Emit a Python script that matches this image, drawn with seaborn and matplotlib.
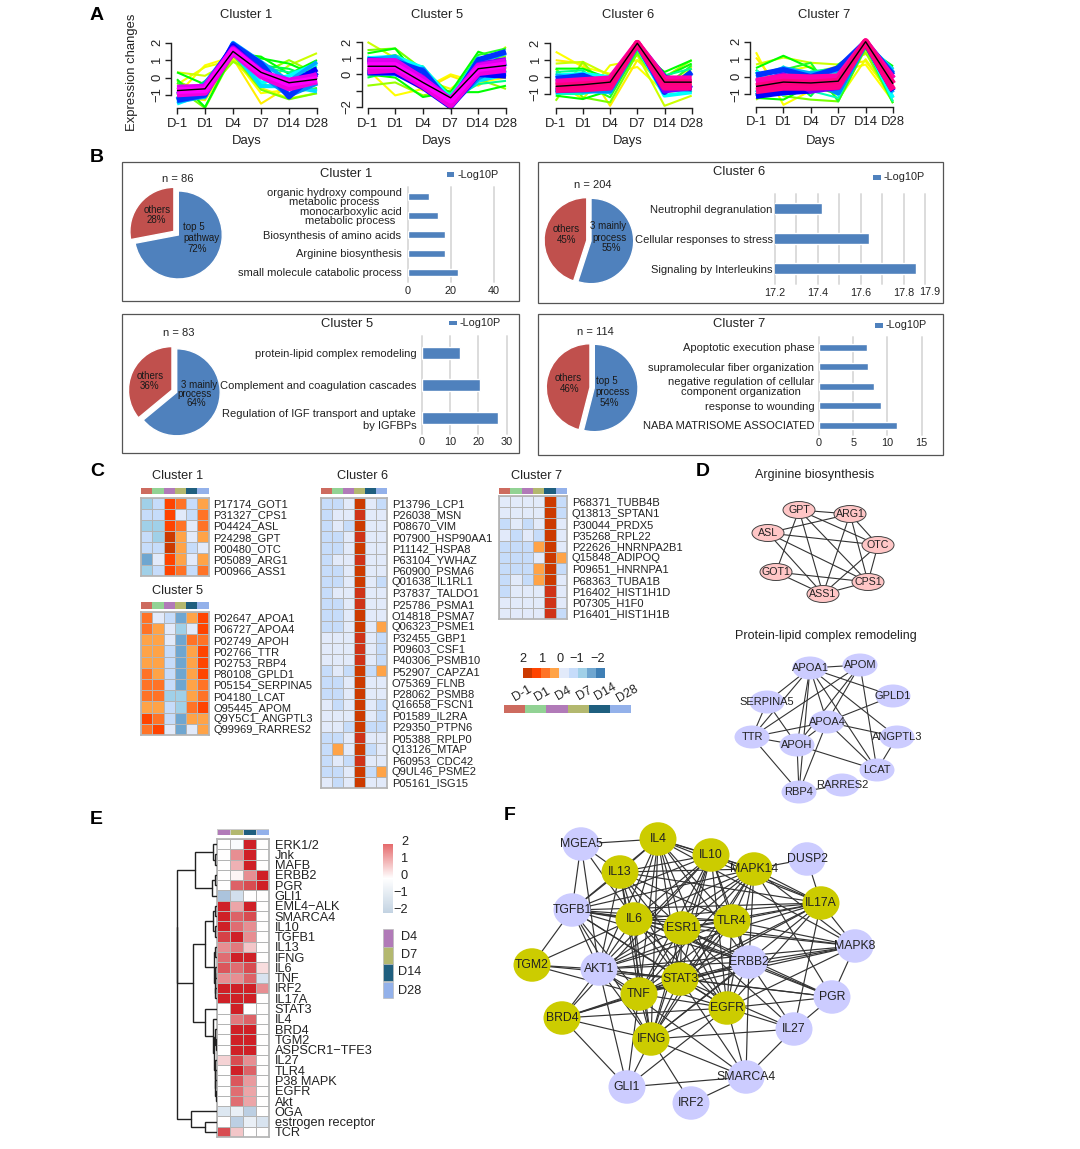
import numpy as np
import pandas as pd
import matplotlib
matplotlib.use('Agg')
import matplotlib.pyplot as plt
from matplotlib.colors import ListedColormap, LinearSegmentedColormap
from matplotlib.patches import Ellipse, Rectangle
from matplotlib.cm import ScalarMappable
import seaborn as sns

W, H = 1080, 1149
days = ['D-1', 'D1', 'D4', 'D7', 'D14', 'D28']
day_colors = ['#cd6b5f', '#92d294', '#b17ab8', '#b3b86f', '#1f5f7f', '#93b1ea']

# Panel A: expression profiles, low membership first
profile_colors = ['#ffff00', '#ffee00', '#eeff00', '#ccff00', '#99ff00', '#77ff00',
                  '#00ff00', '#00ff00', '#22ff22', '#00ff44', '#00ff88', '#00ffbb',
                  '#00ffff', '#00ddff', '#00aaff', '#0088ff', '#0033ff', '#0000ff', '#7700ff']
core_c15 = ['#dd00ee', '#ee00dd', '#ff00ff']
core_c67 = ['#ff00aa', '#ff0088', '#ff0080']

cluster1_lines = [
    [-1.0, 0.7, 1.2, -0.9, -0.7, -0.4], [-1.1, -1.3, 1.1, -1.5, -0.5, 0.4], [-0.4, 0.6, 1.0, -0.6, -1.2, -0.9],
    [0.3, 0.1, 1.0, -0.5, 0.7, 1.4], [-0.2, -0.9, 0.9, 0.2, 1.0, 0.2], [-0.6, -1.75, 1.3, -0.7, -1.25, -0.9],
    [0.3, -0.4, 1.2, 1.1, 0.8, 0.1], [-0.1, -1.7, 1.4, 1.2, 0.2, 1.0], [-0.3, -1.0, 1.3, 0.9, -0.9, -0.6],
    [-1.3, -0.2, 1.2, 0.7, 0.5, -0.1], [-1.1, -1.2, 1.5, 0.6, 0.3, 0.6], [-0.5, -0.8, 1.3, -0.4, -0.6, -0.7],
    [-1.5, -0.9, 1.7, -0.3, 0.1, 0.8], [-1.2, -0.5, 1.5, -0.5, -0.5, -0.8], [-1.4, -1.1, 2.0, 0.9, -0.2, 0.9],
    [-1.3, -0.4, 1.7, 0.2, -1.0, -0.3], [-1.3, -1.0, 1.9, 0.8, -1.1, 0.3], [-1.0, -0.6, 1.8, 0.3, -0.4, 0.5],
    [-0.9, -0.8, 1.7, 0.4, -0.6, 0.2], [-0.6, -0.55, 1.6, 0.25, -0.2, 0.1], [-0.95, -0.85, 1.45, 0.1, -0.6, -0.2],
    [-0.75, -0.7, 1.55, 0.3, -0.35, -0.1]]
cluster1_mean = [-0.75, -0.65, 1.5, 0.3, -0.3, -0.1]

cluster5_lines = [
    [0.3, -1.3, -0.9, 0.0, -0.5, -0.2], [0.9, 0.2, -1.0, -0.1, -0.7, 0.4], [0.1, 0.8, -0.3, -0.9, 0.4, 1.0],
    [2.0, 1.0, 0.1, -1.5, 0.3, 1.7], [-0.7, -0.5, -1.3, -1.0, -0.3, -0.9], [1.5, 1.6, 0.3, -1.2, 1.0, 1.1],
    [1.3, 1.6, -0.5, -1.1, 1.4, 0.8], [0.0, -0.2, -1.4, -1.1, -1.1, -0.7], [0.8, 1.2, 0.4, -1.3, 1.2, 1.6],
    [-0.2, 0.2, -0.9, -1.6, 0.9, 0.3], [1.1, 0.7, 0.5, -1.6, -0.6, -0.4], [0.0, 0.3, -0.8, -1.2, 0.6, 0.9],
    [1.0, 1.1, 0.4, -1.5, 1.0, 0.1], [0.1, 0.0, -0.6, -1.7, -0.4, 0.0], [0.9, 1.1, -0.1, -1.5, 0.8, 1.3],
    [0.2, 0.2, 0.3, -1.9, -0.2, 0.7], [0.9, 0.8, 0.2, -1.8, 0.9, 1.4], [0.1, 0.1, -0.8, -2.0, 0.0, -0.1],
    [0.8, 0.7, -0.2, -1.8, 0.6, 0.9], [0.8, 0.8, -0.3, -1.6, 0.5, 0.8], [0.2, 0.3, -0.7, -1.9, 0.1, 0.3],
    [0.55, 0.55, -0.5, -1.6, 0.35, 0.6]]
cluster5_mean = [0.5, 0.5, -0.5, -1.45, 0.35, 0.55]

cluster6_lines = [
    [1.5, 0.6, 0.2, 0.6, -0.9, -0.7], [1.0, 0.8, -1.7, 1.0, -0.5, 0.6], [-0.3, -1.3, 0.7, 1.0, -0.2, -0.4],
    [0.8, 0.9, 0.1, 1.3, -1.7, -1.1], [-1.4, 0.9, -1.0, 1.5, 0.0, 1.0], [0.5, -1.2, -1.5, 1.4, -0.9, 0.5],
    [0.5, 0.5, -0.1, 1.6, 0.3, 1.0], [-1.1, -1.3, -0.8, 1.7, 0.0, 0.8], [0.2, -0.4, -1.2, 1.6, -0.6, 0.7],
    [-0.9, 0.3, -0.6, 1.7, 0.2, -0.9], [0.3, 0.4, -1.0, 1.8, 0.1, 0.5], [-1.0, -1.0, -0.7, 1.7, -0.8, 0.3],
    [0.1, 0.2, 0.0, 1.8, -1.1, -0.9], [-0.9, -0.8, -0.9, 1.9, 0.0, -0.6], [0.1, -0.1, -0.2, 1.9, -0.9, 0.2],
    [-0.7, -0.8, -0.8, 1.9, -0.7, -0.7], [-0.1, 0.1, -0.5, 2.0, -0.9, 0.3], [-0.8, -0.7, -0.6, 2.0, 0.0, -0.7],
    [-0.3, -0.2, -0.1, 2.0, -0.8, -0.6], [-0.3, -0.2, -0.1, 2.0, -0.1, -0.1], [-0.75, -0.7, -0.6, 2.0, -0.6, -0.6],
    [-0.55, -0.45, -0.35, 2.0, -0.3, -0.3]]
cluster6_mean = [-0.55, -0.45, -0.3, 2.0, -0.3, -0.3]

cluster7_lines = [
    [1.4, -1.6, -0.8, 0.3, 0.7, -1.4], [1.1, -0.9, 0.2, 0.6, 0.9, -1.1], [0.2, 0.3, 0.6, -1.3, 1.0, -1.2],
    [0.7, 1.1, 0.8, 0.7, 1.3, 0.4], [-1.3, -0.4, -0.9, 0.2, 1.4, -1.5], [0.4, -1.1, -1.3, -1.4, 1.6, -0.7],
    [0.5, 1.2, 0.5, -0.2, 1.7, 0.6], [-1.2, -1.3, -0.5, -1.0, 1.8, 0.5], [0.2, 0.4, 0.8, -1.4, 1.7, -1.5],
    [-1.0, 0.2, -1.1, 0.7, 1.8, 0.3], [0.4, -0.9, 0.3, 0.5, 1.8, 0.0], [-1.1, 0.6, -0.8, -1.2, 1.8, -1.4],
    [0.3, -1.0, 0.1, -1.0, 1.9, -1.2], [-0.9, 0.3, -0.7, -0.6, 1.9, 0.4], [0.0, 0.5, 0.2, 0.3, 1.9, -0.9],
    [-1.1, -0.7, -0.2, -0.9, 1.9, 0.2], [0.1, 0.4, 0.0, 0.5, 2.0, 0.1], [-1.1, -0.9, -0.8, -0.1, 1.9, -0.8],
    [-0.3, 0.1, -0.8, -0.6, 2.0, -0.1], [-0.25, 0.0, -0.05, 0.0, 2.0, -0.1], [-0.8, -0.6, -0.6, -0.55, 2.0, -0.75],
    [-0.55, -0.3, -0.35, -0.25, 2.0, -0.4]]
cluster7_mean = [-0.55, -0.3, -0.35, -0.25, 2.0, -0.4]

# Panel B: enrichment bars and pies
b1_terms = ['organic hydroxy compound\nmetabolic process', 'monocarboxylic acid\nmetabolic process',
            'Biosynthesis of amino acids', 'Arginine biosynthesis', 'small molecule catabolic process']
b1_vals = [10, 14, 17.3, 17.4, 23.3]
b5_terms = ['protein-lipid complex remodeling', 'Complement and coagulation cascades',
            'Regulation of IGF transport and uptake\nby IGFBPs']
b5_vals = [13.5, 20.7, 27]
b6_terms = ['Neutrophil degranulation', 'Cellular responses to stress', 'Signaling by Interleukins']
b6_vals = [17.42, 17.64, 17.86]
b7_terms = ['Apoptotic execution phase', 'supramolecular fiber organization',
            'negative regulation of cellular\ncomponent organization', 'response to wounding',
            'NABA MATRISOME ASSOCIATED']
b7_vals = [7, 7.1, 8, 9, 11.4]
pie1 = [72, 28]
pie5 = [64, 36]
pie6 = [55, 45]
pie7 = [54, 46]

# Panel C: z-score levels, 2.5 is the redder shade of the top level
c1_genes = ['P17174_GOT1', 'P31327_CPS1', 'P04424_ASL', 'P24298_GPT', 'P00480_OTC', 'P05089_ARG1', 'P00966_ASS1']
c1_vals = [[-1, -.5, 1.5, 1, -.5, .5], [-.5, -.5, 1.5, 0, -.5, 1], [-1, -1, 1.5, 1, 0, 1], [-.5, -1, 2, .5, 0, .5],
           [-.5, -.5, 2, .5, -.5, 0], [-1.5, 0, 1.5, .5, 0, .5], [-1, -.5, 1.5, 1, -.5, 1]]
c5_genes = ['P02647_APOA1', 'P06727_APOA4', 'P02749_APOH', 'P02766_TTR', 'P02753_RBP4', 'P80108_GPLD1',
            'P05154_SERPINA5', 'P04180_LCAT', 'O95445_APOM', 'Q9Y5C1_ANGPTL3', 'Q99969_RARRES2']
c5_vals = [[1, 0, -.5, -1.5, .5, 1.5], [1, .5, 0, -1, 0, 1.5], [.5, .5, 0, -1.5, 1, 1], [.5, .5, -.5, -1.5, .5, 1.5],
           [.5, .5, -.5, -1.5, .5, 1.5], [1, .5, -.5, -1.5, .5, 1.5], [1, 1, -.5, -1.5, .5, 1], [1, 1, -1, -1, .5, 1],
           [.5, .5, -.5, -1, 1, 1.5], [1.5, 1, -.5, -1.5, .5, .5], [1, 1.5, 0, -1.5, 0, .5]]
c6_genes = ['P13796_LCP1', 'P26038_MSN', 'P08670_VIM', 'P07900_HSP90AA1', 'P11142_HSPA8', 'P63104_YWHAZ',
            'P60900_PSMA6', 'Q01638_IL1RL1', 'P37837_TALDO1', 'P25786_PSMA1', 'O14818_PSMA7', 'Q06323_PSME1',
            'P32455_GBP1', 'P09603_CSF1', 'P40306_PSMB10', 'P52907_CAPZA1', 'O75369_FLNB', 'P28062_PSMB8',
            'Q16658_FSCN1', 'P01589_IL2RA', 'P29350_PTPN6', 'P05388_RPLP0', 'Q13126_MTAP', 'P60953_CDC42',
            'Q9UL46_PSME2', 'P05161_ISG15']
c6_vals = [[-.5, -.5, 0, 2, 0, -.5], [-.5, 0, 0, 2.5, 0, 0], [-.5, 0, -.5, 2, 0, 0], [-.5, -.5, 0, 2.5, 0, 0],
           [-.5, -.5, 0, 2, 0, 0], [-.5, 0, 0, 2.5, 0, 0], [-.5, -.5, 0, 2, 0, 0], [-.5, -.5, 0, 2, 0, -.5],
           [-.5, 0, 0, 2.5, 0, 0], [-.5, -.5, 0, 2.5, 0, 0], [-.5, -.5, 0, 2, 0, 0], [-.5, -.5, 0, 2, 0, .5],
           [0, 0, 0, 2.5, 0, -.5], [0, 0, 0, 2.5, 0, -.5], [0, 0, 0, 2.5, 0, -.5], [-.5, 0, -.5, 2, -.5, .5],
           [-.5, -.5, 0, 2, 0, 0], [-.5, -.5, 0, 2, 0, 0], [0, -.5, 0, 2, 0, -.5], [0, 0, 0, 2, 0, -.5],
           [0, 0, -.5, 2, -.5, -.5], [-.5, -.5, 0, 2.5, 0, 0], [-.5, .5, 0, 2, -.5, 0], [-.5, 0, -.5, 2.5, 0, 0],
           [-.5, -.5, 0, 2, -.5, .5], [0, -.5, 0, 2, 0, 0]]
c7_genes = ['P68371_TUBB4B', 'Q13813_SPTAN1', 'P30044_PRDX5', 'P35268_RPL22', 'P22626_HNRNPA2B1', 'Q15848_ADIPOQ',
            'P09651_HNRNPA1', 'P68363_TUBA1B', 'P16402_HIST1H1D', 'P07305_H1F0', 'P16401_HIST1H1B']
c7_vals = [[0, 0, 0, 0, 2, -.5], [0, 0, 0, 0, 2, -.5], [-.5, 0, -.5, 0, 2, 0], [0, -.5, 0, -.5, 2, 0],
           [-.5, -.5, -.5, .5, 2, 0], [-.5, -.5, -.5, 0, 2, .5], [-.5, -.5, -.5, .5, 2, -.5], [-.5, 0, -.5, .5, 2, 0],
           [-.5, 0, 0, 0, 2.5, 0], [0, 0, 0, 0, 2.5, 0], [0, 0, 0, 0, 2.5, -.5]]
level_colors = ['#3f7fb5', '#6fa6d0', '#a0d0e8', '#c6dcfa', '#e2eafa', '#ffa347', '#ff7326', '#ff4400', '#cc3a00', '#cf3318']
legend_levels = [2, 1.5, 1, .5, 0, -.5, -1, -1.5, -2]

# Panel E
e_names = ['ERK1/2', 'Jnk', 'MAFB', 'ERBB2', 'PGR', 'GLI1', 'EML4\u2212ALK', 'SMARCA4', 'IL10', 'TGFB1', 'IL13', 'IFNG',
           'IL6', 'TNF', 'IRF2', 'IL17A', 'STAT3', 'IL4', 'BRD4', 'TGM2', 'ASPSCR1\u2212TFE3', 'IL27', 'TLR4',
           'P38 MAPK', 'EGFR', 'Akt', 'OGA', 'estrogen receptor', 'TCR']
e_vals = [[0, -.1, 2, 0], [0, 1, 2, 0], [0, .7, 2, 0], [0, .1, 1, 2], [0, 1.4, 1.6, 2], [-1.5, -.8, 0, 0],
          [2, .8, 2, 0], [2, 1.4, 1.6, 0], [2, 1.3, 1, 0], [1.7, 2, 1, 0], [1, 1.2, .5, 0], [1.3, 2, 2, 0],
          [1.5, 1.3, 1.6, .3], [1, 1, 1.4, -.7], [2, 2, 2, 1], [2, 2, 2, 0], [0, 2, 0, 0], [0, 1.2, 1.4, 0],
          [0, 2, 2, 0], [0, 2, 2, 0], [0, 2, 2, 0], [.4, 1.6, 1, 0], [0, 2, 1.4, 0], [0, 1.5, .9, 0], [0, 1.3, .8, 0],
          [0, 1.3, .8, 0], [-.6, -.4, -1.2, 0], [0, -1.2, -.4, -.7], [1.6, .5, 0, 0]]
# dendrogram: [height, left, right], leaves are row numbers
top_branch = [21.7, [3.3, 0, [1.7, 1, 2]], [5, [1.7, 3, 4], 5]]
mid_a = [11.7, [3.3, [1.7, 6, 7], [1.7, 8, 9]], [2.5, [1.7, 10, 11], [2, [1.5, 12, 13], [1.5, 14, 15]]]]
mid_b = [11.7, 16, [3.3, 17, [2.5, [1.5, 18, [1, 19, 20]], [2, 21, [1.7, 22, [1.5, 23, [1, 24, 25]]]]]]]
low_branch = [26, 26, [11.7, 27, 28]]
e_tree = [40, [40, top_branch, [23.3, mid_a, mid_b]], low_branch]

# Panel D: node places on the page
d1_nodes = {'GPT': (799, 510), 'ARG1': (850, 514), 'ASL': (768, 533), 'OTC': (878, 545), 'GOT1': (776, 572),
            'CPS1': (868, 582), 'ASS1': (823, 594)}
d1_edges = [('GPT', 'ARG1'), ('GPT', 'OTC'), ('GPT', 'ASS1'), ('GPT', 'GOT1'), ('GPT', 'CPS1'), ('ARG1', 'ASL'),
            ('ARG1', 'OTC'), ('ARG1', 'CPS1'), ('ARG1', 'ASS1'), ('ASL', 'OTC'), ('ASL', 'CPS1'), ('ASL', 'ASS1'),
            ('OTC', 'CPS1'), ('OTC', 'ASS1'), ('GOT1', 'CPS1'), ('GOT1', 'ASS1'), ('CPS1', 'ASS1')]
d2_nodes = {'APOA1': (810, 668), 'APOM': (860, 665), 'GPLD1': (893, 696), 'SERPINA5': (767, 702), 'TTR': (752, 737),
            'APOA4': (827, 722), 'ANGPTL3': (897, 737), 'APOH': (797, 745), 'LCAT': (877, 770), 'RBP4': (799, 792),
            'RARRES2': (842, 785)}
d2_edges = [('APOA1', 'APOM'), ('APOA1', 'GPLD1'), ('APOA1', 'SERPINA5'), ('APOA1', 'TTR'), ('APOA1', 'APOA4'),
            ('APOA1', 'APOH'), ('APOA1', 'RBP4'), ('APOA1', 'LCAT'), ('APOA1', 'ANGPTL3'), ('APOM', 'TTR'),
            ('APOM', 'APOA4'), ('APOM', 'APOH'), ('APOM', 'LCAT'), ('GPLD1', 'APOA4'), ('SERPINA5', 'TTR'),
            ('SERPINA5', 'APOH'), ('TTR', 'APOA4'), ('TTR', 'APOH'), ('TTR', 'RBP4'), ('APOA4', 'APOH'),
            ('APOA4', 'ANGPTL3'), ('APOA4', 'LCAT'), ('APOA4', 'RBP4'), ('APOH', 'LCAT'), ('APOH', 'RBP4'),
            ('ANGPTL3', 'LCAT'), ('RBP4', 'RARRES2')]

# Panel F
f_hubs = {'IL4': (658, 839), 'IL10': (711, 855), 'IL13': (620, 872), 'MAPK14': (754, 869), 'IL17A': (821, 903),
          'IL6': (634, 919), 'ESR1': (682, 928), 'TLR4': (732, 921), 'TGM2': (532, 965), 'STAT3': (680, 979),
          'TNF': (639, 994), 'EGFR': (727, 1008), 'BRD4': (562, 1018), 'IFNG': (651, 1039)}
f_others = {'MGEA5': (581, 844), 'DUSP2': (807, 859), 'TGFB1': (572, 910), 'MAPK8': (855, 946), 'ERBB2': (749, 962),
            'AKT1': (599, 969), 'PGR': (832, 997), 'IL27': (794, 1029), 'SMARCA4': (746, 1077), 'GLI1': (627, 1087),
            'IRF2': (691, 1103)}
f_links = {
    'MGEA5': 'IL4 IL13 AKT1 TGFB1 IL6',
    'DUSP2': 'MAPK14 IL17A',
    'IL4': 'IL13 IL10 MAPK14 IL17A TGFB1 IL6 ESR1 TLR4 AKT1 STAT3 TNF EGFR IFNG ERBB2 MAPK8',
    'IL10': 'IL13 MAPK14 IL17A TGFB1 IL6 ESR1 TLR4 AKT1 STAT3 TNF EGFR IFNG ERBB2 BRD4',
    'IL13': 'MAPK14 TGFB1 IL6 ESR1 TLR4 AKT1 STAT3 TNF IFNG EGFR IL17A',
    'MAPK14': 'IL17A TGFB1 IL6 ESR1 TLR4 AKT1 STAT3 TNF EGFR IFNG ERBB2 MAPK8 PGR',
    'IL17A': 'TGFB1 IL6 ESR1 TLR4 AKT1 STAT3 TNF EGFR IFNG MAPK8 IL27',
    'TGFB1': 'IL6 ESR1 TLR4 AKT1 STAT3 TNF EGFR IFNG TGM2 ERBB2 MAPK8',
    'IL6': 'ESR1 TLR4 AKT1 STAT3 TNF EGFR IFNG ERBB2 TGM2 PGR',
    'ESR1': 'TLR4 AKT1 STAT3 TNF EGFR IFNG ERBB2 MAPK8 PGR IL27',
    'TLR4': 'AKT1 STAT3 TNF EGFR IFNG ERBB2 MAPK8',
    'MAPK8': 'ERBB2 STAT3 AKT1 TNF EGFR PGR',
    'ERBB2': 'AKT1 STAT3 TNF EGFR IFNG PGR IL27 SMARCA4 BRD4',
    'TGM2': 'AKT1 TNF STAT3',
    'AKT1': 'STAT3 TNF EGFR IFNG BRD4 GLI1 PGR SMARCA4',
    'STAT3': 'TNF EGFR IFNG BRD4 PGR IL27 SMARCA4',
    'TNF': 'EGFR IFNG BRD4 GLI1',
    'PGR': 'EGFR IL27',
    'EGFR': 'IFNG BRD4 IL27 SMARCA4 GLI1',
    'BRD4': 'IFNG GLI1',
    'IL27': 'IFNG SMARCA4',
    'IFNG': 'SMARCA4 GLI1 IRF2',
    'SMARCA4': 'GLI1 IRF2',
}

sns.set_theme(style='white')
plt.rcParams['font.family'] = ['Liberation Sans', 'DejaVu Sans']
plt.rcParams['axes.unicode_minus'] = True

fig = plt.figure(figsize=(W / 100, H / 100), dpi=100, facecolor='white')
TXT = '#222222'
CELL_EDGE = '#b4b4b4'
GRID = '#dcdcdc'


def px_axes(x0, y0, x1, y1):
    ax = fig.add_axes([x0 / W, 1 - y1 / H, (x1 - x0) / W, (y1 - y0) / H])
    ax.patch.set_visible(False)
    return ax


# whole page overlay, in pixels, for labels, boxes and networks
page = fig.add_axes([0, 0, 1, 1], zorder=20)
page.set_xlim(0, W)
page.set_ylim(H, 0)
page.axis('off')


def label(x, y, s, size=8, ha='center', va='center', **kw):
    kw.setdefault('color', TXT)
    page.text(x, y, s, fontsize=size, ha=ha, va=va, **kw)


for letter, lx, ly in [('A', 97, 15), ('B', 97, 158), ('C', 97, 472), ('D', 703, 472), ('E', 96, 819), ('F', 510, 816)]:
    label(lx, ly, letter, size=14, fontweight='bold', color='black')


# Panel A
def profile_panel(rect, ylim, yticks, ylabels, lines, mean, core, title, tx, dx, tick_pad=3):
    ax = px_axes(*rect)
    n = len(lines)
    rows = [(i, d, v) for i, line in enumerate(lines + [mean]) for d, v in enumerate(line)]
    df = pd.DataFrame(rows, columns=['line', 'day', 'value'])
    palette = profile_colors + core + ['black']
    sns.lineplot(data=df, x='day', y='value', hue='line', palette=palette, estimator=None, units='line',
                 legend=False, ax=ax, linewidth=1.5)
    for i, ln in enumerate(ax.lines):
        ln.set_clip_on(False)
        ln.set_solid_capstyle('butt')
        if i >= n:
            ln.set_linewidth(1.0)
        elif i >= n - 3:
            ln.set_linewidth(4.8)
        elif i >= n - 7:
            ln.set_linewidth(4.0)
        elif i >= n - 10:
            ln.set_linewidth(2.8)
    ax.set_xlim(0, 5)
    ax.set_ylim(*ylim)
    for s in ['top', 'right']:
        ax.spines[s].set_visible(False)
    ax.spines['left'].set_position(('outward', 4))
    ax.spines['left'].set_bounds(yticks[0], yticks[-1])
    for s in ['left', 'bottom']:
        ax.spines[s].set_color('#222222')
        ax.spines[s].set_linewidth(1.0)
    ax.set_xticks(range(6), days)
    ax.set_yticks(yticks, ylabels)
    ax.tick_params(axis='x', length=4.5, width=1, color='#222222', labelsize=9.4, pad=tick_pad, labelcolor=TXT, bottom=True)
    ax.tick_params(axis='y', length=4, width=1, color='#222222', labelsize=9.4, pad=2, labelcolor=TXT, left=True)
    for t in ax.get_yticklabels():
        t.set_rotation(90)
        t.set_va('center')
    ax.set_xlabel('')
    ax.set_ylabel('')
    label(tx, 15, title, size=9.4)
    label(dx, 141, 'Days', size=9.4)


y4 = [-1, 0, 1, 2]
y4_text = ['\u22121', '0', '1', '2']
profile_panel((177, 42.7, 317, 108), (-1.75, 2), y4, y4_text, cluster1_lines, cluster1_mean, core_c15, 'Cluster 1', 246, 247)
profile_panel((367.5, 42, 506, 108), (-2.08, 2), [-2, -1, 0, 1, 2], ['\u22122', '', '0', '1', '2'],
              cluster5_lines, cluster5_mean, core_c15, 'Cluster 5', 437, 437)
profile_panel((555.7, 43.3, 691.7, 108), (-1.83, 2), y4, y4_text, cluster6_lines, cluster6_mean, core_c67, 'Cluster 6', 628, 628)
profile_panel((756, 41.7, 893, 107), (-1.72, 2), y4, y4_text, cluster7_lines, cluster7_mean, core_c67, 'Cluster 7', 824, 821, tick_pad=2)
label(132, 72, 'Expression changes', size=9.4, rotation=90)


# Panel B
def enrich_box(box, title, title_xy, n_text, n_xy, pie_vals, pie_c, radius, explode, pie_texts,
               bar_rect, terms, vals, xlim, gridx, tick_labels, pad, tick_pad, ma, lx, ly):
    page.add_patch(Rectangle((box[0], box[1]), box[2] - box[0], box[3] - box[1], fill=False, ec='#555555', lw=0.9))
    label(*title_xy, title, size=9.4)
    label(*n_xy, n_text, size=8)
    # pie, in its own square axes
    s = radius * 1.35
    pax = px_axes(pie_c[0] - s, pie_c[1] - s, pie_c[0] + s, pie_c[1] + s)
    pax.pie(pie_vals, colors=['#4f81bd', '#c0504d'], startangle=90, counterclock=False, explode=[0, explode], radius=1)
    pax.set_xlim(-1.35, 1.35)
    pax.set_ylim(-1.35, 1.35)
    for (tx, ty, t) in pie_texts:
        label(tx, ty, t, size=7, color='#1a1a1a')
    # bars
    ax = px_axes(*bar_rect)
    sns.barplot(x=vals, y=terms, orient='h', color='#4f81bd', saturation=1, width=0.36, ax=ax, zorder=3)
    ax.set_xlim(*xlim)
    ax.set_xticks(gridx)
    ax.set_xticklabels(tick_labels)
    ax.grid(False)
    for gx in gridx:
        ax.axvline(gx, color=GRID, lw=1.4, zorder=1, clip_on=False)
    for sp in ax.spines.values():
        sp.set_visible(False)
    ax.tick_params(axis='x', length=0, labelsize=7.8, pad=tick_pad, labelcolor=TXT)
    ax.tick_params(axis='y', length=0, labelsize=8, pad=pad, labelcolor=TXT)
    for t in ax.get_yticklabels():
        t.set_linespacing(0.95 if ma == 'center' else 1.3)
        t.set_multialignment(ma)
    ax.set_xlabel('')
    ax.set_ylabel('')
    # small legend
    page.add_patch(Rectangle((lx, ly - 2.4), 7.6, 4.8, color='#4f81bd', lw=0))
    label(lx + 10.5, ly, '-Log10P', size=7.8, ha='left')


enrich_box((121.7, 162.3, 519.3, 301), 'Cluster 1', (345.7, 174), 'n = 86', (177.7, 178.7), pie1, (178.3, 235), 44, 0.13,
           [(156.7, 210, 'others'), (156, 220.3, '28%'), (194, 226.7, 'top 5'), (201, 237.7, 'pathway'), (197.7, 249.3, '72%')],
           (407.7, 187.3, 493.5, 281.8), b1_terms, b1_vals, (0, 40), [0, 20, 40], ['0', '20', '40'], 4.5, 3, 'center', 446.7, 174.6)
enrich_box((121.7, 314.3, 519.3, 453.3), 'Cluster 5', (347.3, 323.7), 'n = 83', (179, 333), pie5, (176.7, 392.3), 43.5, 0.12,
           [(150, 375.7, 'others'), (149, 385.7, '36%'), (199, 385, '3 mainly'), (195, 394, 'process'), (196.7, 402.7, '64%')],
           (421.7, 336.3, 506.7, 434.3), b5_terms, b5_vals, (0, 30), [0, 10, 20, 30], ['0', '10', '20', '30'], 4, 2, 'right', 449, 323)
enrich_box((538.3, 162.3, 942.7, 303.3), 'Cluster 6', (739, 172.3), 'n = 204', (592.3, 184.7), pie6, (591, 241), 42.7, 0.1,
           [(566, 229.3, 'others'), (566.3, 240.3, '45%'), (608.3, 226.3, '3 mainly'), (610, 237.7, 'process'), (611.7, 247.7, '55%')],
           (775, 193.7, 925, 283.7), b6_terms, b6_vals, (17.2, 17.9), [17.2, 17.3, 17.4, 17.5, 17.6, 17.7, 17.8, 17.9],
           ['17.2', '', '17.4', '', '17.6', '', '17.8', ''], 1.7, 3, 'center', 873.3, 177.4)
label(930, 292.4, '17.9', size=7.8)
enrich_box((538.3, 314.3, 942.7, 455), 'Cluster 7', (739.3, 324), 'n = 114', (595.7, 332), pie7, (594.3, 388), 43.7, 0.1,
           [(567.7, 378, 'others'), (569.3, 389.3, '46%'), (607.3, 380.7, 'top 5'), (613, 391.7, 'process'), (609.3, 402.7, '54%')],
           (819, 337.3, 921.7, 435), b7_terms, b7_vals, (0, 15), [0, 5, 10, 15], ['0', '5', '10', '15'], 3.4, 2, 'center', 875, 325.4)

# Panel C
level_cmap = ListedColormap(level_colors)
day_cmap = ListedColormap(day_colors)


def gene_heatmap(rect, bar_rect, genes, vals, title, title_xy):
    ax = px_axes(*rect)
    sns.heatmap(pd.DataFrame(vals, index=genes), ax=ax, cmap=level_cmap, vmin=-2.25, vmax=2.75, cbar=False,
                linewidths=0.6, linecolor=CELL_EDGE, xticklabels=False, yticklabels=True)
    ax.yaxis.tick_right()
    ax.tick_params(axis='y', length=0, labelsize=8, pad=3.5, labelcolor=TXT, labelrotation=0)
    ax.set_xlabel('')
    ax.set_ylabel('')
    for sp in ax.spines.values():
        sp.set_visible(True)
        sp.set_color(CELL_EDGE)
    bar = px_axes(*bar_rect)
    sns.heatmap([[0, 1, 2, 3, 4, 5]], ax=bar, cmap=day_cmap, cbar=False, xticklabels=False, yticklabels=False,
                linewidths=0, vmin=-.5, vmax=5.5)
    label(*title_xy, title, size=9.2)


gene_heatmap((141, 497.7, 208.5, 575.7), (141, 488, 208.5, 494.5), c1_genes, c1_vals, 'Cluster 1', (177.3, 475.7))
gene_heatmap((141, 611.7, 208.5, 735), (141, 602, 208.5, 608.5), c5_genes, c5_vals, 'Cluster 5', (177.3, 590.7))
gene_heatmap((320.7, 497.7, 387, 788), (321, 488, 387, 494.5), c6_genes, c6_vals, 'Cluster 6', (362.3, 475.7))
gene_heatmap((499, 495.7, 567, 619), (499, 488, 567, 494), c7_genes, c7_vals, 'Cluster 7', (536.7, 475.7))

lev_ax = px_axes(523, 667.7, 605, 678)
sns.heatmap([legend_levels], ax=lev_ax, cmap=level_cmap, vmin=-2.25, vmax=2.75, cbar=False, xticklabels=False, yticklabels=False)
for s, x in zip(['2', '1', '0', '\u22121', '\u22122'], [523, 543, 560, 577, 598]):
    label(x, 659, s, size=9.2)
day_ax = px_axes(504, 705, 631, 713)
sns.heatmap([[0, 1, 2, 3, 4, 5]], ax=day_ax, cmap=day_cmap, vmin=-.5, vmax=5.5, cbar=False, xticklabels=False, yticklabels=False)
for s, x, y in zip(days, [522, 542, 563, 584, 605, 627], [693, 694, 693, 693, 692, 694]):
    label(x, y, s, size=9, rotation=30)

# Panel E
e_cmap = LinearSegmentedColormap.from_list('e', ['#8fafd0', '#ffffff', '#cf2027'])
e_bar_cmap = LinearSegmentedColormap.from_list('ebar', ['#c3d3e2', '#ffffff', '#e56a6c'])
e_ax = px_axes(216.7, 839, 269, 1137)
sns.heatmap(pd.DataFrame(e_vals, index=e_names), ax=e_ax, cmap=e_cmap, vmin=-2, vmax=2, cbar=False,
            linewidths=0.7, linecolor=CELL_EDGE, xticklabels=False, yticklabels=True)
e_ax.yaxis.tick_right()
e_ax.tick_params(axis='y', length=0, labelsize=9.2, pad=4, labelcolor=TXT, labelrotation=0)
e_ax.set_xlabel('')
e_ax.set_ylabel('')
for sp in e_ax.spines.values():
    sp.set_visible(True)
    sp.set_color(CELL_EDGE)
e_bar = px_axes(216.7, 829, 269, 835)
sns.heatmap([[2, 3, 4, 5]], ax=e_bar, cmap=day_cmap, vmin=-.5, vmax=5.5, cbar=False, xticklabels=False, yticklabels=False,
            linewidths=0.5, linecolor='#cccccc')

tree_ax = px_axes(170, 839, 216.7, 1137)
tree_ax.set_xlim(46.7, 0)
tree_ax.set_ylim(len(e_names), 0)
tree_ax.axis('off')


def draw_tree(node):
    # returns the row position of a branch, drawing it on the way
    if isinstance(node, int):
        return node + 0.5, 0
    h, left, right = node
    y0, h0 = draw_tree(left)
    y1, h1 = draw_tree(right)
    tree_ax.plot([h0, h, h, h1], [y0, y0, y1, y1], color='#222222', lw=1.0, solid_joinstyle='miter')
    return (y0 + y1) / 2, h


draw_tree(e_tree)

cb_ax = px_axes(383, 844, 393, 912.7)
fig.colorbar(ScalarMappable(cmap=e_bar_cmap, norm=plt.Normalize(-2.1, 2.1)), cax=cb_ax, ticks=[])
cb_ax.patch.set_visible(True)
for sp in cb_ax.spines.values():
    sp.set_visible(False)
for s, y in zip(['2', '1', '0', '\u22121', '\u22122'], [841.7, 858.9, 876, 893.3, 910]):
    label(408, y, s, size=9.2, ha='right')
for s, c, y0, y1, ly in zip(['D4', 'D7', 'D14', 'D28'], day_colors[2:], [929.3, 947, 964, 981.7], [946.7, 964, 981, 998],
                            [936.7, 955.3, 972.3, 991]):
    page.add_patch(Rectangle((383, y0), 10, y1 - y0, fc=c, ec='#bbbbbb', lw=0.5))
    label(409.5, ly, s, size=9.2)


# networks for D and F
def draw_network(nodes, edges, colors, size, fontsize, edge_lw=0.8, edgecolor='none', edge_color='#333333'):
    for a, b in edges:
        page.plot([nodes[a][0], nodes[b][0]], [nodes[a][1], nodes[b][1]], color=edge_color, lw=edge_lw, zorder=2)
    for name, (x, y) in nodes.items():
        page.add_patch(Ellipse((x, y), size[0], size[1], fc=colors[name], ec=edgecolor, lw=0.7, zorder=3))
        page.text(x, y, name, fontsize=fontsize, ha='center', va='center', color=TXT, zorder=4)


label(814.3, 474.7, 'Arginine biosynthesis', size=9)
label(826, 635.7, 'Protein-lipid complex remodeling', size=9)
draw_network(d1_nodes, d1_edges, {k: '#ffc6c6' for k in d1_nodes}, (32, 17), 7.7, edgecolor='#444444')
draw_network(d2_nodes, d2_edges, {k: '#ccccff' for k in d2_nodes}, (35, 23), 8)

f_nodes = {**f_hubs, **f_others}
f_edges = [(a, b) for a, targets in f_links.items() for b in targets.split()]
f_colors = {**{k: '#cccc00' for k in f_hubs}, **{k: '#ccccff' for k in f_others}}
draw_network(f_nodes, f_edges, f_colors, (37, 33.5), 8.8, edge_lw=0.85)

page.set_xlim(0, W)
page.set_ylim(H, 0)
fig.savefig('out.png', dpi=100)
